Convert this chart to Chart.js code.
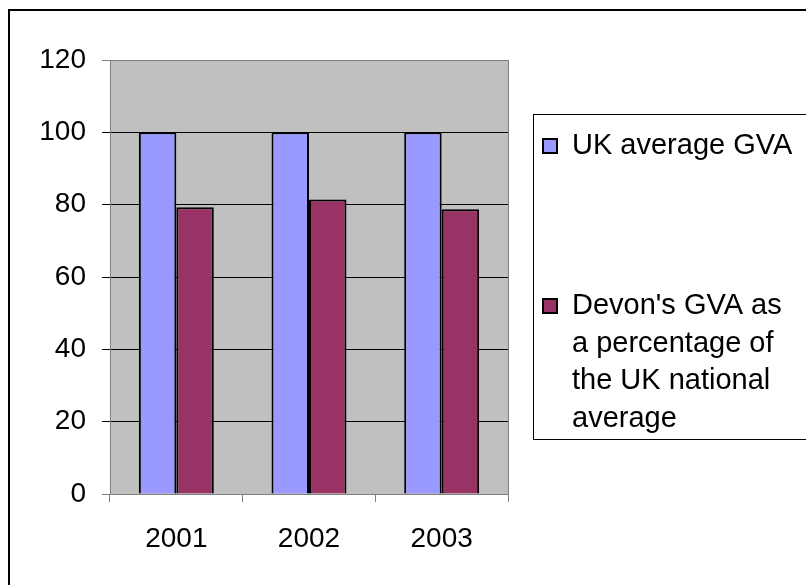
<!DOCTYPE html>
<html>
<head>
<meta charset="utf-8">
<script src="https://cdn.jsdelivr.net/npm/chart.js@4.4.1/dist/chart.umd.min.js"></script>
<style>
  html, body { margin: 0; padding: 0; background: #fff; overflow: hidden; }
  #frame { position: absolute; left: 8px; top: 9px; width: 900px; height: 700px; border: 2px solid #000; }
  canvas { position: absolute; left: 0; top: 0; }
</style>
</head>
<body>
<div id="frame"></div>
<canvas id="chart" width="806" height="585"></canvas>
<script>
var years = ['2001', '2002', '2003'];
var ukAverage = [100, 100, 100];
var devonShare = [79.3, 81.4, 78.7];
var seriesNames = ['UK average GVA', "Devon's GVA as a percentage of the UK national average"];
var yTicks = [0, 20, 40, 60, 80, 100, 120];

var FONT = '"Liberation Sans", Arial, sans-serif';

// grey plot area behind the bars
var plotBackground = {
    id: 'plotBackground',
    beforeDraw: function (chart) {
        var a = chart.chartArea, ctx = chart.ctx;
        ctx.save();
        ctx.fillStyle = '#C0C0C0';
        ctx.fillRect(a.left, a.top, a.right - a.left, a.bottom - a.top);
        ctx.strokeStyle = '#808080';
        ctx.lineWidth = 1;
        ctx.beginPath();
        ctx.moveTo(a.right + 0.5, a.top);
        ctx.lineTo(a.right + 0.5, a.bottom);
        ctx.stroke();
        ctx.restore();
    }
};

// Excel style legend box on the right
var boxLegend = {
    id: 'boxLegend',
    afterDraw: function (chart) {
        var ctx = chart.ctx;
        ctx.save();
        ctx.strokeStyle = '#000';
        ctx.lineWidth = 1;
        ctx.strokeRect(533.5, 114.5, 400, 325);
        ctx.font = '29px ' + FONT;
        ctx.textBaseline = 'middle';
        ctx.fillStyle = '#000';
        var rowsY = [146, 306];
        chart.data.datasets.forEach(function (ds, i) {
            var words = ds.label.split(' ');
            var lines = [], cur = '';
            words.forEach(function (w) {
                var t = cur ? cur + ' ' + w : w;
                if (ctx.measureText(t).width > 230 && cur) { lines.push(cur); cur = w; }
                else cur = t;
            });
            lines.push(cur);
            var y = rowsY[i];
            ctx.fillStyle = ds.backgroundColor;
            ctx.fillRect(543, y - 7, 14, 14);
            ctx.strokeStyle = '#000';
            ctx.lineWidth = 2;
            ctx.strokeRect(543, y - 7, 14, 14);
            ctx.fillStyle = '#000';
            lines.forEach(function (ln, k) {
                ctx.fillText(ln, 572, y + k * 37.5);
            });
        });
        ctx.restore();
    }
};

new Chart(document.getElementById('chart'), {
    type: 'bar',
    data: {
        labels: years,
        datasets: [
            { label: seriesNames[0], data: ukAverage, backgroundColor: '#9999FF', borderColor: '#000', borderWidth: 2 },
            { label: seriesNames[1], data: devonShare, backgroundColor: '#993366', borderColor: '#000', borderWidth: 2 }
        ]
    },
    options: {
        responsive: false,
        animation: false,
        events: [],
        devicePixelRatio: 1,
        layout: { padding: { left: 0, top: 60, right: 298, bottom: 31 } },
        datasets: { bar: { categoryPercentage: 0.565, barPercentage: 1 } },
        plugins: { legend: { display: false }, tooltip: { enabled: false } },
        scales: {
            x: {
                grid: { offset: true, drawOnChartArea: false, drawTicks: true, tickLength: 8, color: '#808080' },
                border: { color: '#808080' },
                ticks: { color: '#000', font: { size: 28, family: FONT }, padding: 20 },
                afterFit: function (s) { s.height = 60; }
            },
            y: {
                min: 0, max: 120,
                afterBuildTicks: function (s) { s.ticks = yTicks.map(function (v) { return { value: v }; }); },
                grid: {
                    tickLength: 8,
                    color: function (c) { return (c.tick && (c.tick.value === 0 || c.tick.value === 120)) ? '#808080' : '#000'; }
                },
                border: { color: '#808080' },
                ticks: { color: '#000', font: { size: 28, family: FONT }, padding: 16 },
                afterFit: function (s) { s.width = 110; }
            }
        }
    },
    plugins: [plotBackground, boxLegend]
});
</script>
</body>
</html>
